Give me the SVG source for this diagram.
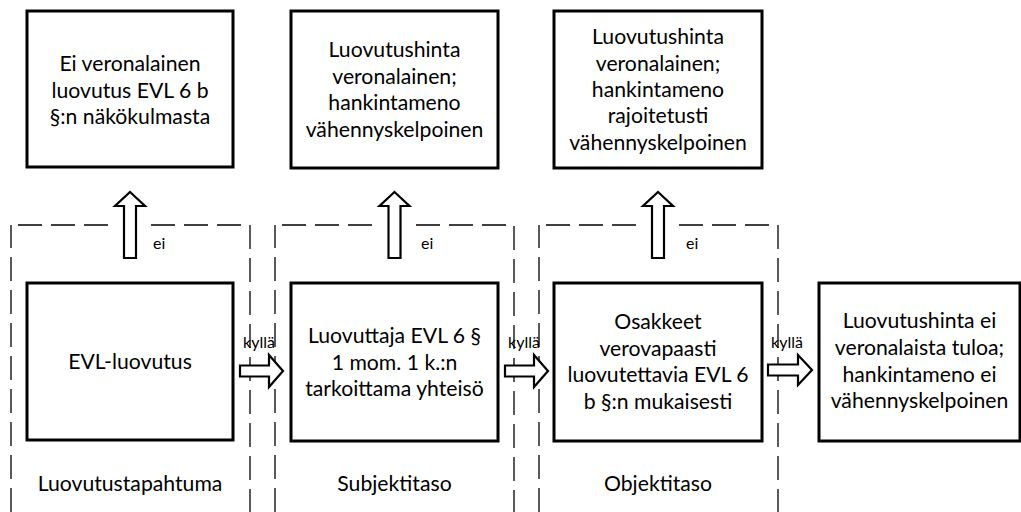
<svg xmlns="http://www.w3.org/2000/svg" width="1021" height="512" viewBox="0 0 1021 512">
<style>
.box{fill:#fff;stroke:#000;stroke-width:3}
.t{font-family:Lato,"Open Sans","Liberation Sans",sans-serif;font-size:21.2px;fill:#000;text-anchor:middle}
.s{font-family:Lato,"Open Sans","Liberation Sans",sans-serif;font-size:16px;fill:#000}
.dash{fill:none;stroke:#000;stroke-width:1.3;stroke-dasharray:24 9}
.arr{fill:#fff;stroke:#000;stroke-width:2.2;stroke-linejoin:miter}
</style>
<rect width="1021" height="512" fill="#fff"/>
<g id="lanes">
<path class="dash" d="M11,512 V225"/><path class="dash" d="M18,225 H108"/><path class="dash" d="M151,225 H250 V512"/>
<path class="dash" d="M275,512 V225"/><path class="dash" d="M282,225 H373"/><path class="dash" d="M416,225 H514 V512"/>
<path class="dash" d="M539,512 V225"/><path class="dash" d="M546,225 H638"/><path class="dash" d="M679,225 H778 V512"/>
<text class="t" x="130" y="491">Luovutustapahtuma</text>
<text class="t" x="394.5" y="491">Subjektitaso</text>
<text class="t" x="658" y="491">Objektitaso</text>
</g>
<g id="n_ei_veronalainen">
<rect class="box" x="27" y="11" width="206" height="156"/>
<text class="t" x="130" y="71">Ei veronalainen</text>
<text class="t" x="130" y="98">luovutus EVL 6 b</text>
<text class="t" x="130" y="124">§:n näkökulmasta</text>
</g>
<g id="n_veronalainen">
<rect class="box" x="291" y="11" width="207" height="157"/>
<text class="t" x="394.5" y="57">Luovutushinta</text>
<text class="t" x="394.5" y="83.5">veronalainen;</text>
<text class="t" x="394.5" y="110">hankintameno</text>
<text class="t" x="394.5" y="136.5">vähennyskelpoinen</text>
</g>
<g id="n_rajoitetusti">
<rect class="box" x="554" y="11" width="208" height="157"/>
<text class="t" x="658" y="44">Luovutushinta</text>
<text class="t" x="658" y="70.5">veronalainen;</text>
<text class="t" x="658" y="97">hankintameno</text>
<text class="t" x="658" y="123">rajoitetusti</text>
<text class="t" x="658" y="149.5">vähennyskelpoinen</text>
</g>
<g id="n_evl_luovutus">
<rect class="box" x="27" y="283" width="206" height="157"/>
<text class="t" x="130" y="369">EVL-luovutus</text>
</g>
<g id="n_luovuttaja">
<rect class="box" x="291" y="283" width="207" height="158"/>
<text class="t" x="394.5" y="343">Luovuttaja EVL 6 §</text>
<text class="t" x="394.5" y="369.5">1 mom. 1 k.:n</text>
<text class="t" x="394.5" y="396">tarkoittama yhteisö</text>
</g>
<g id="n_osakkeet">
<rect class="box" x="554" y="283" width="208" height="158"/>
<text class="t" x="658" y="329">Osakkeet</text>
<text class="t" x="658" y="356">verovapaasti</text>
<text class="t" x="658" y="382">luovutettavia EVL 6</text>
<text class="t" x="658" y="409">b §:n mukaisesti</text>
</g>
<g id="n_ei_veronalaista">
<rect class="box" x="819" y="283" width="201" height="158"/>
<text class="t" x="919.5" y="328">Luovutushinta ei</text>
<text class="t" x="919.5" y="355">veronalaista tuloa;</text>
<text class="t" x="919.5" y="382">hankintameno ei</text>
<text class="t" x="919.5" y="408">vähennyskelpoinen</text>
</g>
<g id="connectors">
<path class="arr" d="M130,192 L145,206 L136,206 L136,258 L124,258 L124,206 L115,206 Z"/>
<text class="s" x="153" y="249">ei</text>
<path class="arr" d="M394.5,192 L409.5,206 L400.5,206 L400.5,258 L388.5,258 L388.5,206 L379.5,206 Z"/>
<text class="s" x="421" y="249">ei</text>
<path class="arr" d="M658,192 L673,206 L664,206 L664,258 L652,258 L652,206 L643,206 Z"/>
<text class="s" x="686" y="249">ei</text>
<path class="arr" d="M283,371 L269,355 L269,365.5 L240,365.5 L240,376.5 L269,376.5 L269,387 Z"/>
<text class="s" x="243" y="348">kyllä</text>
<path class="arr" d="M548,371 L534,355 L534,365.5 L505,365.5 L505,376.5 L534,376.5 L534,387 Z"/>
<text class="s" x="508" y="348">kyllä</text>
<path class="arr" d="M812,370 L798,355 L798,364.5 L768,364.5 L768,375.5 L798,375.5 L798,385 Z"/>
<text class="s" x="771" y="348">kyllä</text>
</g>
</svg>
